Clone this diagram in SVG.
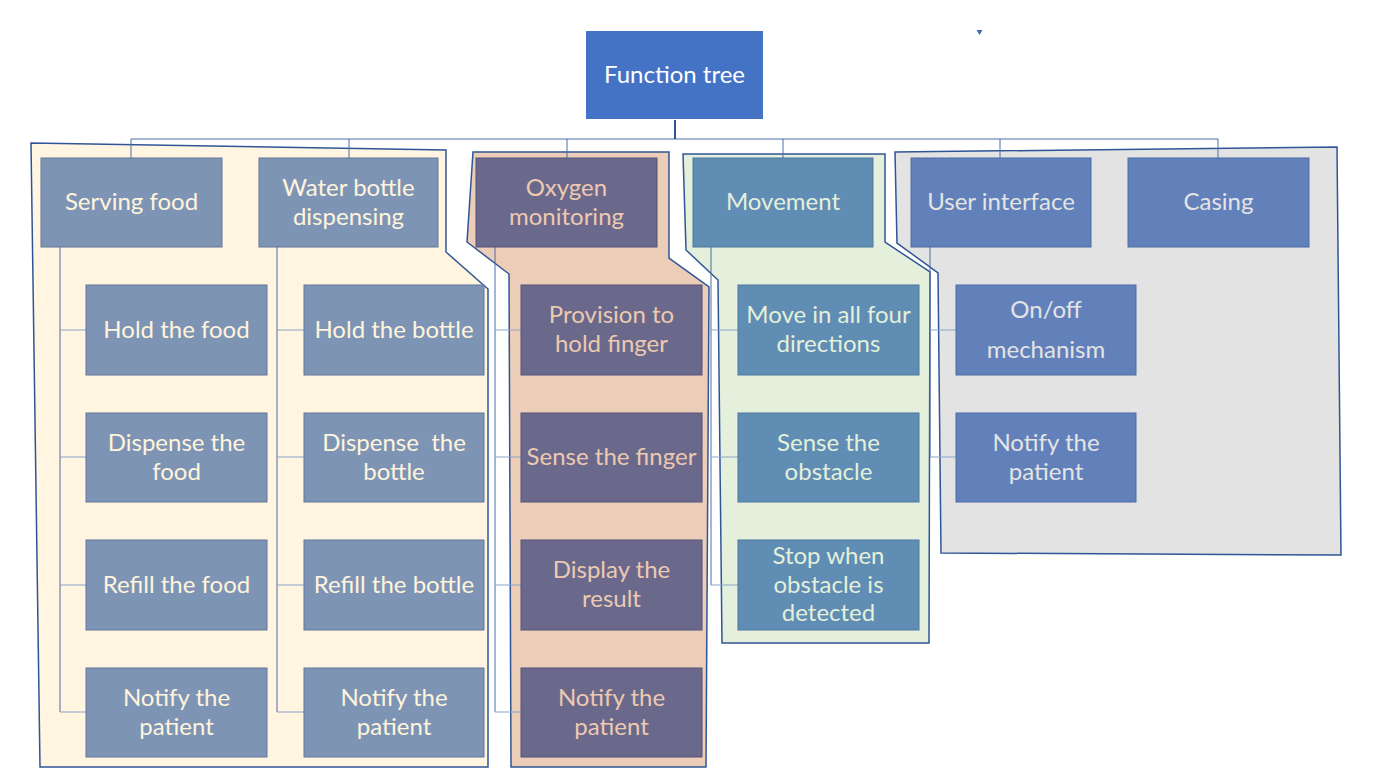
<svg xmlns="http://www.w3.org/2000/svg" width="1393" height="784" viewBox="0 0 1393 784">
<style>
text{font-family:Lato,"Open Sans","Liberation Sans",sans-serif;font-size:24px;text-anchor:middle;white-space:pre}
.reg{stroke:#2F5597;stroke-width:1.5;stroke-linejoin:miter}
.c{fill:none;stroke:#4F6DA6;stroke-width:1}
.ch{fill:none;stroke:#8CA3CC;stroke-width:1.2}
.n1{fill:#7E94B5;stroke:#62779A;stroke-width:1}
.n2{fill:#6A698C;stroke:#54537A;stroke-width:1}
.n3{fill:#5F8DB4;stroke:#4C79A0;stroke-width:1}
.n4{fill:#6281BA;stroke:#4D6CA6;stroke-width:1}
.t1{fill:#FFF4DC}.t2{fill:#EDC9B1}.t3{fill:#E4F0DA}.t4{fill:#E4E4E4}
</style>
<rect width="1393" height="784" fill="#FFFFFF"/>
<g id="regions">
<polygon class="reg" fill="#FFF5E1" points="31,143 446,150 446,252 488,289 488,767 40,767"/>
<polygon class="reg" fill="#EBCDB8" points="473,152 669,152 669,258 709,287 706,767 511,767 509,274 467,242"/>
<polygon class="reg" fill="#E4EFDC" points="683,154 885,154 885,242 930,272 929,643 722,643 718,280 686,250"/>
<polygon class="reg" fill="#E3E3E3" points="895,152 1337,147 1341,555 941,553 938,273 897,243"/>
</g>
<g id="connectors">
<path class="c" d="M131,139H1218M131,139V158M349,139V158M567,139V158M783,139V158M1000,139V158M1218,139V158"/>
<path d="M675,120V139" fill="none" stroke="#2F5597" stroke-width="2"/>
<path class="c" d="M60,247V712M277,247V712M495,247V712M711,247V585M930,247V457"/>
<path class="ch" d="M60,330H86M60,457H86M60,585H86M60,712H86M277,330H304M277,457H304M277,585H304M277,712H304M495,330H521M495,457H521M495,585H521M495,712H521M711,330H738M711,457H738M711,585H738M930,330H956M930,457H956"/>
</g>
<path id="mark" d="M976.5,30H982.5L981,32.5L979.5,35L978,32.5Z" fill="#4069B0"/>
<g id="root"><rect x="586" y="31" width="177" height="88" fill="#4472C4"/><text x="674.5" y="83" fill="#FFFFFF">Function tree</text></g>
<g id="serving-food"><rect class="n1" x="41" y="158" width="181" height="89"/><text class="t1" x="131.5" y="210">Serving food</text></g>
<g id="water-bottle"><rect class="n1" x="259" y="158" width="179" height="89"/><text class="t1" x="348.5" y="196">Water bottle</text><text class="t1" x="348.5" y="225">dispensing</text></g>
<g id="oxygen"><rect class="n2" x="476" y="158" width="181" height="89"/><text class="t2" x="566.5" y="196">Oxygen</text><text class="t2" x="566.5" y="225">monitoring</text></g>
<g id="movement"><rect class="n3" x="693" y="158" width="180" height="89"/><text class="t3" x="783" y="210">Movement</text></g>
<g id="user-interface"><rect class="n4" x="911" y="158" width="180" height="89"/><text class="t4" x="1001" y="210">User interface</text></g>
<g id="casing"><rect class="n4" x="1128" y="158" width="181" height="89"/><text class="t4" x="1218.5" y="210">Casing</text></g>
<g id="hold-food"><rect class="n1" x="86" y="285" width="181" height="90"/><text class="t1" x="176.5" y="338">Hold the food</text></g>
<g id="dispense-food"><rect class="n1" x="86" y="413" width="181" height="89"/><text class="t1" x="176.5" y="451">Dispense the</text><text class="t1" x="176.5" y="480">food</text></g>
<g id="refill-food"><rect class="n1" x="86" y="540" width="181" height="90"/><text class="t1" x="176.5" y="593">Refill the food</text></g>
<g id="notify-food"><rect class="n1" x="86" y="668" width="181" height="89"/><text class="t1" x="176.5" y="706">Notify the</text><text class="t1" x="176.5" y="735">patient</text></g>
<g id="hold-bottle"><rect class="n1" x="304" y="285" width="180" height="90"/><text class="t1" x="394" y="338">Hold the bottle</text></g>
<g id="dispense-bottle"><rect class="n1" x="304" y="413" width="180" height="89"/><text class="t1" x="394" y="451">Dispense  the</text><text class="t1" x="394" y="480">bottle</text></g>
<g id="refill-bottle"><rect class="n1" x="304" y="540" width="180" height="90"/><text class="t1" x="394" y="593">Refill the bottle</text></g>
<g id="notify-bottle"><rect class="n1" x="304" y="668" width="180" height="89"/><text class="t1" x="394" y="706">Notify the</text><text class="t1" x="394" y="735">patient</text></g>
<g id="hold-finger"><rect class="n2" x="521" y="285" width="181" height="90"/><text class="t2" x="611.5" y="323">Provision to</text><text class="t2" x="611.5" y="352">hold finger</text></g>
<g id="sense-finger"><rect class="n2" x="521" y="413" width="181" height="89"/><text class="t2" x="611.5" y="465">Sense the finger</text></g>
<g id="display-result"><rect class="n2" x="521" y="540" width="181" height="90"/><text class="t2" x="611.5" y="578">Display the</text><text class="t2" x="611.5" y="607">result</text></g>
<g id="notify-oxygen"><rect class="n2" x="521" y="668" width="181" height="89"/><text class="t2" x="611.5" y="706">Notify the</text><text class="t2" x="611.5" y="735">patient</text></g>
<g id="move-four"><rect class="n3" x="738" y="285" width="181" height="90"/><text class="t3" x="828.5" y="323">Move in all four</text><text class="t3" x="828.5" y="352">directions</text></g>
<g id="sense-obstacle"><rect class="n3" x="738" y="413" width="181" height="89"/><text class="t3" x="828.5" y="451">Sense the</text><text class="t3" x="828.5" y="480">obstacle</text></g>
<g id="stop-obstacle"><rect class="n3" x="738" y="540" width="181" height="90"/><text class="t3" x="828.5" y="564">Stop when</text><text class="t3" x="828.5" y="593">obstacle is</text><text class="t3" x="828.5" y="621">detected</text></g>
<g id="on-off"><rect class="n4" x="956" y="285" width="180" height="90"/><text class="t4" x="1046" y="318">On/off</text><text class="t4" x="1046" y="358">mechanism</text></g>
<g id="notify-ui"><rect class="n4" x="956" y="413" width="180" height="89"/><text class="t4" x="1046" y="451">Notify the</text><text class="t4" x="1046" y="480">patient</text></g>
</svg>
